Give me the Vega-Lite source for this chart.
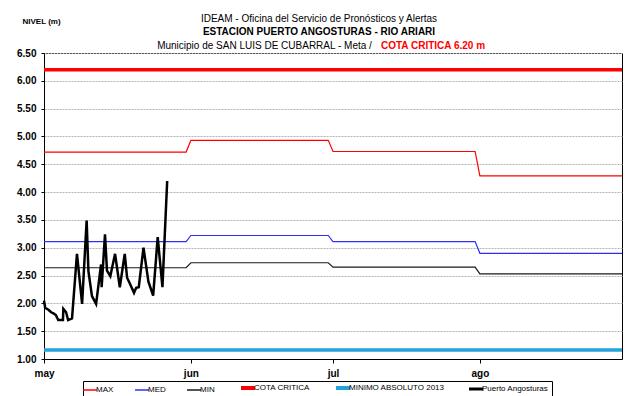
{
  "$schema": "https://vega.github.io/schema/vega-lite/v6.json",
  "width": 578,
  "height": 306,
  "autosize": "none",
  "padding": {"left": 44, "top": 53, "right": 16, "bottom": 37},
  "background": "white",
  "title": {
    "text": "IDEAM - Oficina del Servicio de Pronósticos y Alertas",
    "subtitle": "ESTACION PUERTO ANGOSTURAS - RIO ARIARI",
    "fontSize": 10,
    "fontWeight": "normal",
    "color": "#000000",
    "subtitleFontSize": 10,
    "subtitleFontWeight": "bold",
    "subtitleColor": "#000000",
    "subtitlePadding": 3,
    "anchor": "middle",
    "frame": "group",
    "dx": -14,
    "offset": -20
  },
  "data": {
    "values": [
      {"series": "MAX", "date": "2014-05-01T00:00:00", "value": 4.72},
      {"series": "MAX", "date": "2014-05-31T00:00:00", "value": 4.72},
      {"series": "MAX", "date": "2014-06-01T00:00:00", "value": 4.93},
      {"series": "MAX", "date": "2014-06-30T00:00:00", "value": 4.93},
      {"series": "MAX", "date": "2014-07-01T00:00:00", "value": 4.73},
      {"series": "MAX", "date": "2014-07-31T00:00:00", "value": 4.73},
      {"series": "MAX", "date": "2014-08-01T00:00:00", "value": 4.29},
      {"series": "MAX", "date": "2014-08-31T00:00:00", "value": 4.29},
      {"series": "MED", "date": "2014-05-01T00:00:00", "value": 3.11},
      {"series": "MED", "date": "2014-05-31T00:00:00", "value": 3.11},
      {"series": "MED", "date": "2014-06-01T00:00:00", "value": 3.22},
      {"series": "MED", "date": "2014-06-30T00:00:00", "value": 3.22},
      {"series": "MED", "date": "2014-07-01T00:00:00", "value": 3.11},
      {"series": "MED", "date": "2014-07-31T00:00:00", "value": 3.11},
      {"series": "MED", "date": "2014-08-01T00:00:00", "value": 2.9},
      {"series": "MED", "date": "2014-08-31T00:00:00", "value": 2.9},
      {"series": "MIN", "date": "2014-05-01T00:00:00", "value": 2.64},
      {"series": "MIN", "date": "2014-05-31T00:00:00", "value": 2.64},
      {"series": "MIN", "date": "2014-06-01T00:00:00", "value": 2.73},
      {"series": "MIN", "date": "2014-06-30T00:00:00", "value": 2.73},
      {"series": "MIN", "date": "2014-07-01T00:00:00", "value": 2.65},
      {"series": "MIN", "date": "2014-07-31T00:00:00", "value": 2.65},
      {"series": "MIN", "date": "2014-08-01T00:00:00", "value": 2.53},
      {"series": "MIN", "date": "2014-08-31T00:00:00", "value": 2.53},
      {"series": "COTA CRITICA", "date": "2014-05-01T00:00:00", "value": 6.2},
      {"series": "COTA CRITICA", "date": "2014-08-31T00:00:00", "value": 6.2},
      {"series": "MINIMO ABSOLUTO 2013", "date": "2014-05-01T00:00:00", "value": 1.16},
      {"series": "MINIMO ABSOLUTO 2013", "date": "2014-08-31T00:00:00", "value": 1.16},
      {"series": "Puerto Angosturas", "date": "2014-05-01T00:00:00", "value": 2.05},
      {"series": "Puerto Angosturas", "date": "2014-05-01T06:00:00", "value": 1.92},
      {"series": "Puerto Angosturas", "date": "2014-05-02T00:00:00", "value": 1.88},
      {"series": "Puerto Angosturas", "date": "2014-05-02T12:00:00", "value": 1.84},
      {"series": "Puerto Angosturas", "date": "2014-05-03T00:00:00", "value": 1.82},
      {"series": "Puerto Angosturas", "date": "2014-05-03T12:00:00", "value": 1.79},
      {"series": "Puerto Angosturas", "date": "2014-05-04T00:00:00", "value": 1.7},
      {"series": "Puerto Angosturas", "date": "2014-05-05T00:00:00", "value": 1.7},
      {"series": "Puerto Angosturas", "date": "2014-05-05T02:00:00", "value": 1.9},
      {"series": "Puerto Angosturas", "date": "2014-05-05T16:00:00", "value": 1.84},
      {"series": "Puerto Angosturas", "date": "2014-05-06T02:00:00", "value": 1.7},
      {"series": "Puerto Angosturas", "date": "2014-05-06T22:00:00", "value": 1.73},
      {"series": "Puerto Angosturas", "date": "2014-05-07T23:00:00", "value": 2.89},
      {"series": "Puerto Angosturas", "date": "2014-05-09T01:00:00", "value": 1.99},
      {"series": "Puerto Angosturas", "date": "2014-05-10T00:00:00", "value": 3.49},
      {"series": "Puerto Angosturas", "date": "2014-05-10T09:00:00", "value": 2.58},
      {"series": "Puerto Angosturas", "date": "2014-05-11T03:00:00", "value": 2.13},
      {"series": "Puerto Angosturas", "date": "2014-05-12T00:00:00", "value": 1.99},
      {"series": "Puerto Angosturas", "date": "2014-05-13T01:00:00", "value": 2.7},
      {"series": "Puerto Angosturas", "date": "2014-05-13T04:00:00", "value": 2.29},
      {"series": "Puerto Angosturas", "date": "2014-05-13T21:00:00", "value": 3.24},
      {"series": "Puerto Angosturas", "date": "2014-05-14T07:00:00", "value": 2.59},
      {"series": "Puerto Angosturas", "date": "2014-05-15T00:00:00", "value": 2.49},
      {"series": "Puerto Angosturas", "date": "2014-05-16T00:00:00", "value": 2.89},
      {"series": "Puerto Angosturas", "date": "2014-05-17T00:00:00", "value": 2.29},
      {"series": "Puerto Angosturas", "date": "2014-05-18T01:00:00", "value": 2.89},
      {"series": "Puerto Angosturas", "date": "2014-05-18T13:00:00", "value": 2.46},
      {"series": "Puerto Angosturas", "date": "2014-05-19T01:00:00", "value": 2.37},
      {"series": "Puerto Angosturas", "date": "2014-05-20T00:00:00", "value": 2.19},
      {"series": "Puerto Angosturas", "date": "2014-05-20T11:00:00", "value": 2.28},
      {"series": "Puerto Angosturas", "date": "2014-05-21T00:00:00", "value": 2.29},
      {"series": "Puerto Angosturas", "date": "2014-05-22T00:00:00", "value": 3.0},
      {"series": "Puerto Angosturas", "date": "2014-05-23T01:00:00", "value": 2.39},
      {"series": "Puerto Angosturas", "date": "2014-05-24T01:00:00", "value": 2.14},
      {"series": "Puerto Angosturas", "date": "2014-05-25T00:00:00", "value": 3.19},
      {"series": "Puerto Angosturas", "date": "2014-05-26T00:00:00", "value": 2.29},
      {"series": "Puerto Angosturas", "date": "2014-05-27T00:00:00", "value": 4.2}
    ]
  },
  "encoding": {
    "y": {
      "field": "value",
      "type": "quantitative",
      "scale": {"domain": [1, 6.5], "nice": false, "zero": false},
      "axis": {
        "values": [1, 1.5, 2, 2.5, 3, 3.5, 4, 4.5, 5, 5.5, 6, 6.5],
        "format": ".2f",
        "labelFontWeight": "bold",
        "labelFontSize": 10,
        "labelColor": "#000000",
        "labelFlush": false,
        "tickSize": 3,
        "tickColor": "#000000",
        "domainColor": "#000000",
        "labelPadding": 5,
        "grid": true,
        "gridColor": "#b4b4b4",
        "gridDash": [2, 1],
        "title": "NIVEL (m)",
        "titleAngle": 0,
        "titleAlign": "left",
        "titleBaseline": "alphabetic",
        "titleX": -22,
        "titleY": -30,
        "titleFontSize": 8,
        "titleFontWeight": "bold",
        "titleColor": "#000000"
      }
    },
    "color": {
      "field": "series",
      "type": "nominal",
      "scale": {
        "domain": ["MAX", "MED", "MIN", "COTA CRITICA", "MINIMO ABSOLUTO 2013", "Puerto Angosturas"],
        "range": ["#FF0000", "#3030F0", "#1a1a1a", "#FF0000", "#22A3DA", "#000000"]
      },
      "legend": {
        "orient": "none",
        "legendX": 39,
        "legendY": 328,
        "direction": "horizontal",
        "title": null,
        "strokeColor": "#000000",
        "padding": 3,
        "symbolType": "stroke",
        "symbolSize": 196,
        "labelFontSize": 8,
        "labelColor": "#000000",
        "labelOffset": 2,
        "columnPadding": 18,
        "encode": {
          "symbols": {
            "update": {
              "strokeWidth": {"signal": "(datum.value == 'COTA CRITICA' || datum.value == 'MINIMO ABSOLUTO 2013') ? 4 : (datum.value == 'Puerto Angosturas' ? 3 : 1.5)"}
            }
          }
        }
      }
    }
  },
  "layer": [
    {
      "layer": [
        {
          "transform": [{"filter": {"field": "series", "oneOf": ["MAX", "MED", "MIN"]}}],
          "mark": {"type": "line", "strokeWidth": 1.2},
          "encoding": {
            "x": {
              "field": "date",
              "type": "temporal",
              "scale": {"domain": [{"year": 2014, "month": 5, "date": 1}, {"year": 2014, "month": 8, "date": 31}]},
              "axis": {
                "orient": "bottom",
                "title": null,
                "values": [
                  {"year": 2014, "month": 5, "date": 1},
                  {"year": 2014, "month": 6, "date": 1},
                  {"year": 2014, "month": 7, "date": 1},
                  {"year": 2014, "month": 8, "date": 1}
                ],
                "labelExpr": "['ene','feb','mar','abr','may','jun','jul','ago','sep','oct','nov','dic'][month(datum.value)]",
                "labelFlush": false,
                "labelFontWeight": "bold",
                "labelFontSize": 10,
                "labelColor": "#000000",
                "labelPadding": 5,
                "tickSize": 4,
                "tickColor": "#000000",
                "domainColor": "#000000",
                "grid": false
              }
            }
          }
        },
        {
          "transform": [{"filter": {"field": "series", "oneOf": ["COTA CRITICA", "MINIMO ABSOLUTO 2013"]}}],
          "mark": {"type": "line", "strokeWidth": 3.5},
          "encoding": {
            "x": {"field": "date", "type": "temporal"}
          }
        }
      ]
    },
    {
      "transform": [{"filter": {"field": "series", "equal": "Puerto Angosturas"}}],
      "mark": {"type": "line", "strokeWidth": 2.5},
      "encoding": {
        "x": {
          "field": "date",
          "type": "temporal",
          "axis": {
            "orient": "top",
            "values": [{"year": 2014, "month": 7, "date": 22}],
            "labelExpr": "'COTA CRITICA 6.20 m'",
            "labelColor": "#FF0000",
            "labelFontWeight": "bold",
            "labelFontSize": 10,
            "labelFlush": false,
            "labelOverlap": false,
            "labelBaseline": "alphabetic",
            "labelPadding": 5,
            "ticks": false,
            "tickSize": 0,
            "domain": false,
            "grid": false,
            "title": "Municipio de SAN LUIS DE CUBARRAL - Meta  /",
            "titleFontWeight": "normal",
            "titleFontSize": 10,
            "titleColor": "#000000",
            "titleX": 220,
            "titleY": -5,
            "titleAlign": "center",
            "titleBaseline": "alphabetic"
          }
        }
      }
    }
  ],
  "resolve": {"axis": {"x": "independent"}},
  "config": {
    "font": "Liberation Sans",
    "view": {"stroke": "#000000", "strokeWidth": 1}
  }
}
